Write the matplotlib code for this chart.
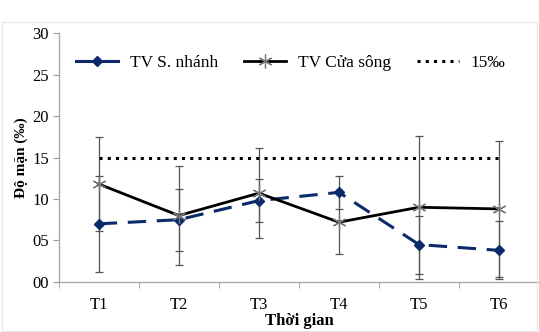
import numpy as np
import matplotlib.pyplot as plt
from matplotlib.lines import Line2D
from matplotlib.patches import Rectangle

plt.rcParams['font.family'] = ['Liberation Serif', 'DejaVu Serif']

# Số liệu độ mặn theo đợt quan trắc
dot_do = ['T1', 'T2', 'T3', 'T4', 'T5', 'T6']
sn_tb = [7.0, 7.5, 9.8, 10.8, 4.5, 3.8]
sn_sd = [5.8, 3.75, 2.6, 2.0, 3.5, 3.5]
cs_tb = [11.8, 8.0, 10.7, 7.2, 9.0, 8.8]
cs_sd = [5.7, 5.95, 5.45, 3.8, 8.6, 8.2]
nguong = 15

x = np.arange(1, len(dot_do) + 1)
xanh = '#0c2a6a'

fig = plt.figure(figsize=(5.39, 3.32), dpi=100)
ax = fig.add_axes([0.109, 0.151, 0.891, 0.749])

err_kw = dict(fmt='none', ecolor='#555555', elinewidth=0.9, capsize=3, capthick=0.9)
ax.errorbar(x, cs_tb, yerr=cs_sd, **err_kw)
ax.errorbar(x, sn_tb, yerr=sn_sd, **err_kw)

ax.plot(x, [nguong] * len(x), color='black', linestyle=(0, (1, 1.7)), linewidth=2.2)
ax.plot(x, sn_tb, color=xanh, linestyle=(0, (6, 3.5)), linewidth=2.2,
        marker='D', markersize=5)
ax.plot(x, cs_tb, color='black', linewidth=2.0, marker=(6, 2, 0), markersize=10,
        markeredgecolor='#777777', markeredgewidth=0.9)

ax.set_xlim(0.5, 6.5)
ax.set_ylim(0, 30)
ax.set_yticks(np.arange(0, 31, 5))
ax.set_yticklabels(['00', '05', '10', '15', '20', '25', '30'])
ax.set_xticks(x)
ax.set_xticklabels(dot_do)
ax.set_xticks(np.arange(0.5, 7, 1), minor=True)
ax.tick_params(axis='x', which='major', length=0, pad=11, labelsize=12)
ax.tick_params(axis='x', which='minor', length=4, color='#999999', direction='out')
ax.tick_params(axis='y', length=4, color='#999999', labelsize=12, pad=3)

for s in ['top', 'right']:
    ax.spines[s].set_visible(False)
for s in ['left', 'bottom']:
    ax.spines[s].set_color('#aaaaaa')
    ax.spines[s].set_linewidth(1.0)

ax.set_xlabel('Thời gian', fontweight='bold', fontsize=12, labelpad=0)
ax.set_ylabel('Độ mặn (‰)', fontweight='bold', fontsize=11, labelpad=3)

# chú giải: đường mẫu vẽ liền
handles = [
    Line2D([], [], color=xanh, linewidth=2.2, marker='D', markersize=5),
    Line2D([], [], color='black', linewidth=2.0, marker=(6, 2, 0), markersize=10,
           markeredgecolor='#777777', markeredgewidth=0.9),
    Line2D([], [], color='black', linestyle=(0, (1, 1.7)), linewidth=2.2),
]
ax.legend(handles, ['TV S. nhánh', 'TV Cửa sông', '15‰'], ncol=3,
          loc='upper center', bbox_to_anchor=(0.483, 0.975), frameon=False,
          fontsize=12.5, handlelength=2.4, columnspacing=1.5, handletextpad=0.7)

fig.patches.append(Rectangle((0.003, 0.003), 0.994, 0.93, transform=fig.transFigure,
                             fill=False, edgecolor='#e6e6e6', linewidth=0.8))

fig.savefig('out.png', dpi=100)
